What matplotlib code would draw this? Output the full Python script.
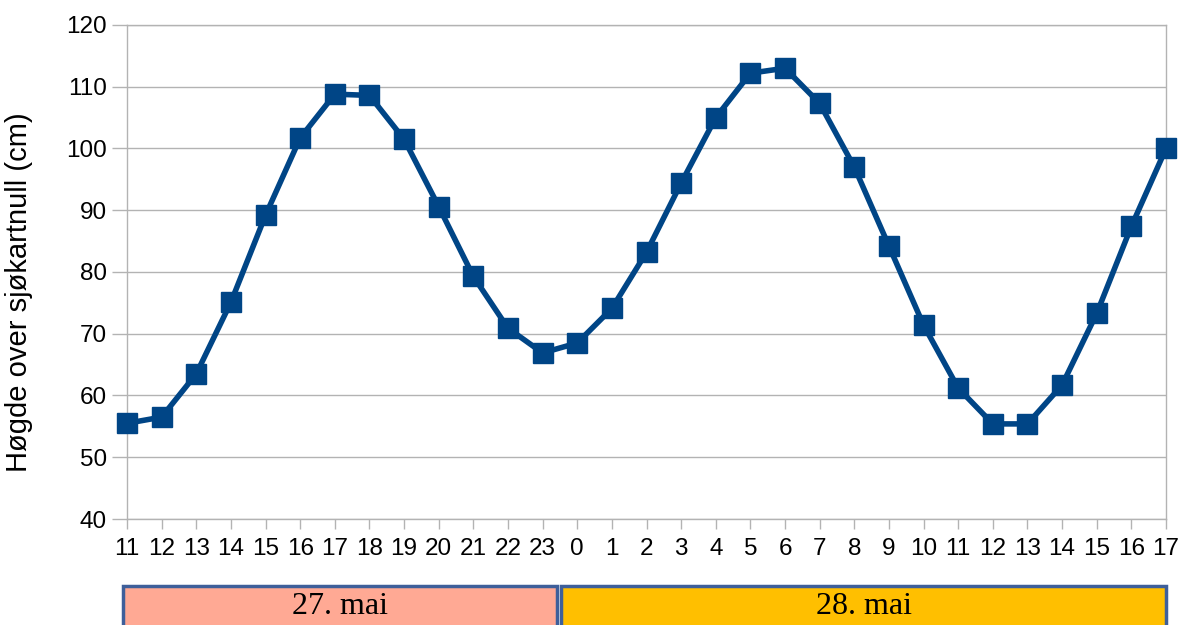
import matplotlib
matplotlib.use("Agg")
import matplotlib.pyplot as plt
from matplotlib.patches import Rectangle
from matplotlib import font_manager as fm

hours = ["11", "12", "13", "14", "15", "16", "17", "18", "19", "20", "21", "22", "23",
         "0", "1", "2", "3", "4", "5", "6", "7", "8", "9", "10", "11", "12", "13",
         "14", "15", "16", "17"]
heights = [55.5, 56.5, 63.5, 75.1, 89.2, 101.7, 108.8, 108.6, 101.5, 90.6, 79.3, 70.9, 66.9,
           68.5, 74.1, 83.2, 94.4, 105.0, 112.2, 113.0, 107.3, 97.0, 84.2, 71.4, 61.2, 55.4, 55.4,
           61.7, 73.3, 87.4, 100.0]
day_labels = ["27. mai", "28. mai"]
day_colors = ["#FFA994", "#FFBF00"]

# locate the regular (non-narrow) Liberation Sans file
sans_path = None
for f in fm.fontManager.ttflist:
    if f.name == "Liberation Sans" and f.style == "normal" and f.weight in (400, "normal") \
            and "Narrow" not in f.fname:
        sans_path = f.fname
        break
def sans(size):
    if sans_path:
        return fm.FontProperties(fname=sans_path, size=size)
    return fm.FontProperties(family="DejaVu Sans", size=size)

W, H = 1182, 625
fig = plt.figure(figsize=(W / 100, H / 100), dpi=100)
ax = fig.add_axes([127 / W, (H - 519) / H, (1166 - 127) / W, (519 - 25) / H])

x = list(range(len(heights)))
ax.plot(x, heights, color="#004586", lw=4, marker="s", ms=14, zorder=3, clip_on=False)

ax.set_xlim(0, len(heights) - 1)
ax.set_ylim(40, 120)
ax.set_yticks(range(40, 121, 10))
ax.set_xticks(x)
ax.set_xticklabels(hours)
ax.grid(axis="y", color="#b3b3b3", lw=1)
ax.set_axisbelow(True)
for s in ax.spines.values():
    s.set_color("#b3b3b3")
    s.set_linewidth(1)
ax.tick_params(axis="both", colors="#b3b3b3", labelcolor="black", width=1, direction="out")
ax.tick_params(axis="y", length=10.8, pad=3.6)
ax.tick_params(axis="x", length=7.2, pad=6.5)
for lab in ax.get_xticklabels() + ax.get_yticklabels():
    lab.set_fontproperties(sans(17.5))
ax.set_ylabel("Høgde over sjøkartnull (cm)", fontproperties=sans(21))
ax.yaxis.set_label_coords(-(127 - 19) / (1166 - 127), 0.46)
ax.yaxis.label.set_va("center")

# day boxes
box_ranges = [(123, 557), (561, 1166)]
for (l, r), lab, col in zip(box_ranges, day_labels, day_colors):
    rect = Rectangle((l / W, -0.02), (r - l) / W, (H - 586) / H + 0.02,
                     transform=fig.transFigure, facecolor=col, edgecolor="#3E5F9A", lw=2.5)
    fig.patches.append(rect)
    fig.text((l + r) / 2 / W, (H - 607) / H, lab, ha="center", va="center",
             fontsize=23, family="Liberation Serif")

fig.savefig("out.png", dpi=100)
